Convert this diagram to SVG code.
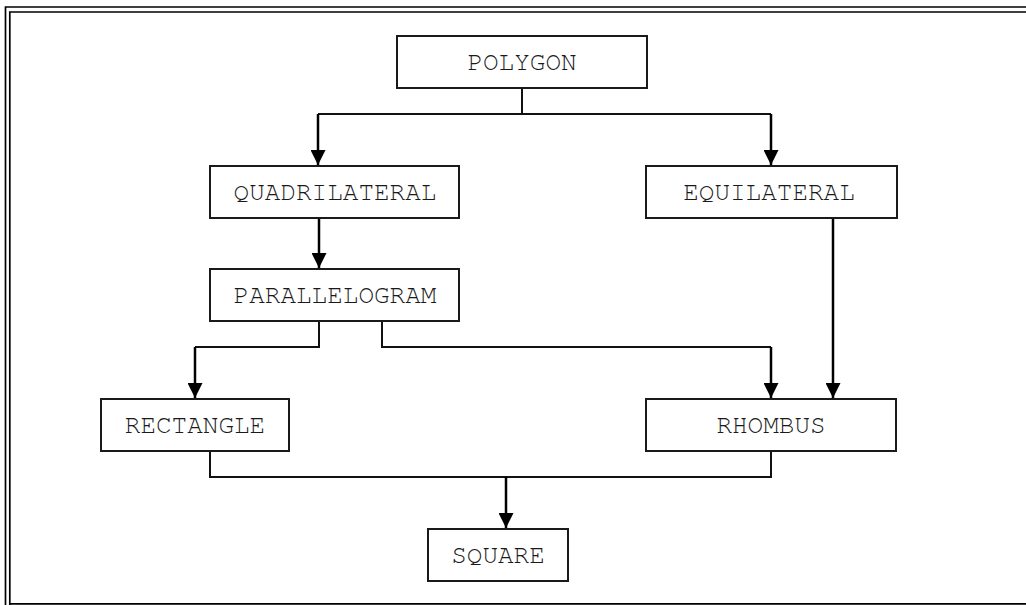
<svg xmlns="http://www.w3.org/2000/svg" width="1026" height="605" viewBox="0 0 1026 605">
  <defs>
    <marker id="arrow" viewBox="0 0 15 15" refX="15" refY="7.5" markerWidth="15" markerHeight="15" markerUnits="userSpaceOnUse" orient="auto">
      <path d="M0,0 L15,7.5 L0,15 Z" fill="#000"/>
    </marker>
    <style>
      .frame { fill: none; stroke: #000; stroke-width: 1.7; }
      .box { fill: #fff; stroke: #1a1a1a; stroke-width: 2; }
      .label { font-family: "Nimbus Mono PS", "FreeMono", "Courier New", "Liberation Mono", monospace; font-size: 26px; fill: #1a1a1a; text-anchor: middle; }
      .link { fill: none; stroke: #111; stroke-width: 2; }
      .arrow { fill: none; stroke: #000; stroke-width: 2.5; marker-end: url(#arrow); }
    </style>
  </defs>
  <rect width="1026" height="605" fill="#fff"/>

  <!-- double page frame -->
  <g id="frame">
    <path class="frame" d="M5.5,605 V7 H1026"/>
    <path class="frame" d="M9.8,605 V12 H1026"/>
    <path class="frame" d="M9.8,603.8 H1026"/>
  </g>

  <!-- connectors -->
  <g id="connectors">
    <!-- polygon split -->
    <path class="link" d="M522,88 V114"/>
    <path class="link" d="M318,114 H771"/>
    <path class="arrow" d="M318,114 V165"/>
    <path class="arrow" d="M771,114 V165"/>
    <!-- quadrilateral to parallelogram -->
    <path class="arrow" d="M319,218 V268"/>
    <!-- parallelogram split -->
    <path class="link" d="M319,321 V347 H195"/>
    <path class="arrow" d="M195,347 V398"/>
    <path class="link" d="M382,321 V347 H771"/>
    <path class="arrow" d="M771,347 V398"/>
    <!-- equilateral to rhombus -->
    <path class="arrow" d="M833,218 V398"/>
    <!-- rectangle + rhombus merge -->
    <path class="link" d="M210,451 V477 H771 V451"/>
    <path class="arrow" d="M506,477 V528"/>
  </g>

  <g id="polygon">
    <rect class="box" x="397" y="36" width="250" height="52"/>
    <text class="label" x="522" y="70">POLYGON</text>
  </g>
  <g id="quadrilateral">
    <rect class="box" x="210" y="166" width="249" height="52"/>
    <text class="label" x="335" y="200">QUADRILATERAL</text>
  </g>
  <g id="equilateral">
    <rect class="box" x="646" y="166" width="251" height="52"/>
    <text class="label" x="769" y="200">EQUILATERAL</text>
  </g>
  <g id="parallelogram">
    <rect class="box" x="210" y="269" width="249" height="52"/>
    <text class="label" x="335" y="303">PARALLELOGRAM</text>
  </g>
  <g id="rectangle">
    <rect class="box" x="101" y="399" width="188" height="52"/>
    <text class="label" x="195" y="433">RECTANGLE</text>
  </g>
  <g id="rhombus">
    <rect class="box" x="646" y="399" width="250" height="52"/>
    <text class="label" x="771" y="433">RHOMBUS</text>
  </g>
  <g id="square">
    <rect class="box" x="428" y="529" width="140" height="52"/>
    <text class="label" x="498" y="563">SQUARE</text>
  </g>
</svg>
